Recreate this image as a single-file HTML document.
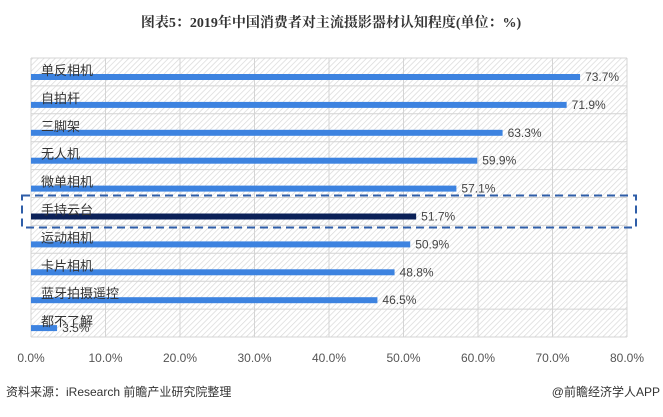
<!DOCTYPE html>
<html><head><meta charset="utf-8"><style>
body{margin:0;background:#fff;width:663px;height:412px;overflow:hidden;font-family:"Liberation Sans","Noto Sans CJK SC",sans-serif;}
</style></head><body>
<svg width="663" height="412" xmlns="http://www.w3.org/2000/svg">
<defs><pattern id="hatch" width="4" height="4" patternUnits="userSpaceOnUse" patternTransform="rotate(45)"><rect width="4" height="4" fill="#fff"/><line x1="0" y1="0" x2="0" y2="4" stroke="#d8d8d8" stroke-width="1.4"/></pattern></defs>
<text x="331" y="27" text-anchor="middle" font-size="14" font-weight="bold" fill="#333" font-family="Liberation Serif,Noto Serif CJK SC,serif">图表5：2019年中国消费者对主流摄影器材认知程度(单位：%)</text>
<g id="plot"></g>
<text x="6" y="396" font-size="12" fill="#333">资料来源：iResearch 前瞻产业研究院整理</text>
<text x="660" y="396" text-anchor="end" font-size="12" fill="#333">@前瞻经济学人APP</text>
</svg>
<script>
const categories=["单反相机","自拍杆","三脚架","无人机","微单相机","手持云台","运动相机","卡片相机","蓝牙拍摄遥控","都不了解"];
const values=[73.7,71.9,63.3,59.9,57.1,51.7,50.9,48.8,46.5,3.5];
const ticks=[0,10,20,30,40,50,60,70,80];
const highlight="手持云台";
const NS="http://www.w3.org/2000/svg";
const X0=31,X1=627,Y0=58,Y1=337,MAX=80;
const x=v=>X0+(v/MAX)*(X1-X0);
const rowH=(Y1-Y0)/categories.length;
const y=i=>Y0+i*rowH;
const g=document.getElementById('plot');
function mk(t,a){const e=document.createElementNS(NS,t);for(const k in a)e.setAttribute(k,a[k]);g.appendChild(e);return e;}
let bg=mk('rect',{x:X0,y:Y0,width:X1-X0,height:Y1-Y0,fill:'url(#hatch)'});


ticks.forEach(t=>{
  let l=mk('line',{x1:x(t),x2:x(t),y1:Y0,y2:Y1,stroke:'#d4d4d4','stroke-width':1});
  
  
  let tx=mk('text',{x:x(t),y:362,'text-anchor':'middle','font-size':12,fill:'#555'});
  tx.textContent=t.toFixed(1)+'%';
  
  
});
for(let i=0;i<=categories.length;i++){
  let l=mk('line',{x1:X0,x2:X1,y1:y(i),y2:y(i),stroke:'#d4d4d4','stroke-width':1});
  
  
}
categories.forEach((c,i)=>{
  const hi=c===highlight;
  let b=mk('rect',{x:X0,y:y(i)+16,width:x(values[i])-X0,height:6,fill:hi?'#0b2158':'#3d83e0'});
  
  
  let lb=mk('text',{x:41,y:y(i)+17,'font-size':13,fill:'#333'});
  lb.textContent=c;
  
  
  let v=mk('text',{x:x(values[i])+5,y:y(i)+23,'font-size':12,fill:'#444'});
  v.textContent=values[i].toFixed(1)+'%';
  
  
  if(hi){
    let r=mk('rect',{x:22,y:y(i)-2,width:614,height:32,fill:'none',stroke:'#2f5ea8','stroke-width':2,'stroke-dasharray':'8,5'});
    
    
  }
});
</script>
</body></html>
